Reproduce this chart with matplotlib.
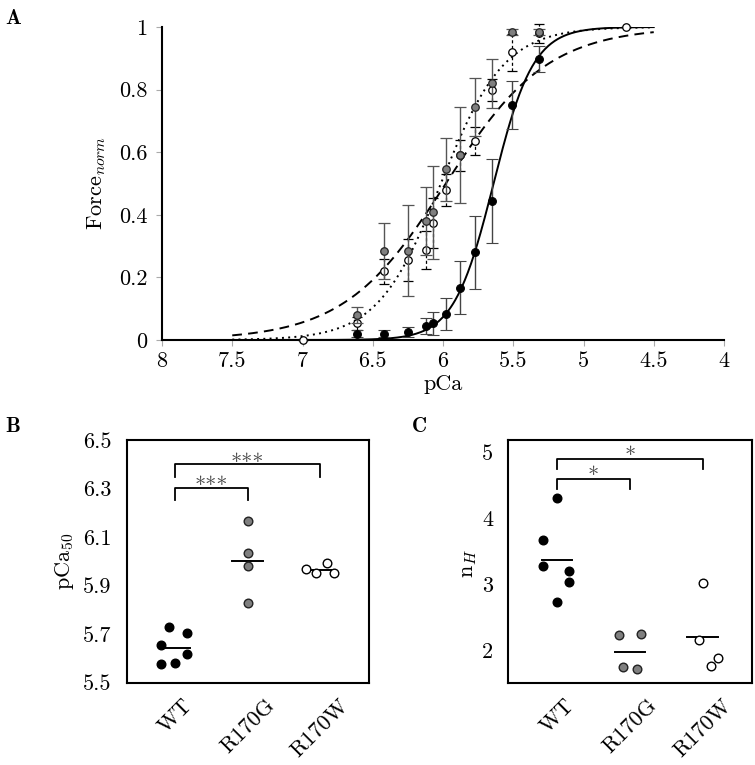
import numpy as np
import matplotlib
matplotlib.use("Agg")
import matplotlib.pyplot as plt

plt.rcParams['font.family'] = ['cmr10', 'DejaVu Serif']
plt.rcParams['mathtext.fontset'] = 'cm'
plt.rcParams['axes.formatter.use_mathtext'] = True

# ---------------- Panel A data ----------------
pca_wt = [6.61, 6.42, 6.25, 6.12, 6.07, 5.98, 5.88, 5.77, 5.65, 5.51, 5.32]
force_wt = [0.02, 0.02, 0.025, 0.045, 0.053, 0.083, 0.167, 0.28, 0.445, 0.751, 0.897]
err_wt = [0.012, 0.012, 0.015, 0.025, 0.037, 0.05, 0.084, 0.117, 0.134, 0.078, 0.041]

pca_g = [6.61, 6.42, 6.25, 6.12, 6.07, 5.98, 5.88, 5.77, 5.65, 5.51, 5.32]
force_g = [0.08, 0.285, 0.285, 0.381, 0.408, 0.545, 0.591, 0.745, 0.82, 0.983, 0.983]
err_g = [0.025, 0.09, 0.146, 0.108, 0.148, 0.1, 0.154, 0.093, 0.078, 0.01, 0.01]

pca_w = [7.0, 6.61, 6.42, 6.25, 6.12, 6.07, 5.98, 5.88, 5.77, 5.65, 5.51, 5.32, 4.70]
force_w = [0.0, 0.053, 0.22, 0.256, 0.288, 0.373, 0.479, 0.59, 0.635, 0.799, 0.919, 0.98, 1.0]
err_w = [0.0, 0.02, 0.04, 0.066, 0.06, 0.08, 0.05, 0.05, 0.044, 0.035, 0.06, 0.03, 0.0]

# Hill fit parameters (WT, R170G, R170W)
fit_pca50 = [5.64, 6.015, 5.98]
fit_nh = [3.06, 1.93, 1.2]
fit_range = [7.5, 4.5]

xticks_a = [8, 7.5, 7, 6.5, 6, 5.5, 5, 4.5, 4]
xticklabels_a = ['8', '7.5', '7', '6.5', '6', '5.5', '5', '4.5', '4']
yticks_a = [0, 0.2, 0.4, 0.6, 0.8, 1]
yticklabels_a = ['0', '0.2', '0.4', '0.6', '0.8', '1']

# ---------------- Panel B / C data ----------------
groups = ['WT', 'R170G', 'R170W']
pca50_wt = [5.728, 5.703, 5.655, 5.618, 5.576, 5.582]
pca50_g = [6.166, 6.036, 5.981, 5.827]
pca50_w = [5.967, 5.953, 5.992, 5.953]
jit_b_wt = [-0.09, 0.16, -0.19, 0.16, -0.19, 0.0]
jit_b_g = [0.0, 0.0, 0.0, 0.0]
jit_b_w = [-0.2, -0.055, 0.096, 0.188]

nh_wt = [4.315, 3.675, 3.269, 3.193, 3.036, 2.731]
nh_g = [2.218, 2.234, 1.736, 1.706]
nh_w = [3.015, 2.142, 1.756, 1.868]
jit_c_wt = [0.0, -0.2, -0.2, 0.157, 0.157, 0.0]
jit_c_g = [-0.152, 0.152, -0.1, 0.1]
jit_c_w = [0.0, -0.05, 0.11, 0.21]

yticks_b = [5.5, 5.7, 5.9, 6.1, 6.3, 6.5]
yticks_c = [2, 3, 4, 5]

FS = 16
GRAY = '#7f7f7f'

fig = plt.figure(figsize=(7.55, 7.65), dpi=100)
W, H = 755.0, 765.0

def box(l, t, r, b):
    return [l / W, 1 - b / H, (r - l) / W, (b - t) / H]

# ================= Panel A =================
axA = fig.add_axes(box(162, 27, 724, 340))
grid = np.linspace(fit_range[0], fit_range[1], 400)
styles = ['-', (0, (1, 2.2)), (0, (5, 3.2))]
for p50, nh, ls in zip(fit_pca50, fit_nh, styles):
    f = 1.0 / (1.0 + 10 ** (nh * (grid - p50)))
    axA.plot(grid, f, color='black', lw=1.4, linestyle=ls, zorder=2)

ebw = axA.errorbar(pca_w, force_w, yerr=err_w, fmt='o', ms=5.4, mfc='white', mec='black',
                   mew=0.9, ecolor='black', elinewidth=0.9, capsize=3.5, capthick=0.9,
                   zorder=3, clip_on=False)
for c in ebw[2]:
    c.set_linestyle((0, (2.5, 2)))
for c in ebw[1]:
    c.set_clip_on(False)
ebw[0].set_clip_on(False)

axA.errorbar(pca_g, force_g, yerr=err_g, fmt='o', ms=5.4, mfc=GRAY, mec='#222222',
             mew=0.9, ecolor='#555555', elinewidth=1.0, capsize=4, capthick=1.0,
             zorder=4, clip_on=False)
axA.errorbar(pca_wt, force_wt, yerr=err_wt, fmt='o', ms=5.6, mfc='black', mec='black',
             mew=0.8, ecolor='#444444', elinewidth=1.0, capsize=4, capthick=1.0,
             zorder=5, clip_on=False)

axA.set_xlim(8, 4)
axA.set_ylim(0, 1)
axA.spines['top'].set_visible(False)
axA.spines['right'].set_visible(False)
axA.spines['left'].set_linewidth(1.5)
axA.spines['bottom'].set_linewidth(1.5)
axA.set_xticks(xticks_a)
axA.set_xticklabels(xticklabels_a)
axA.set_yticks(yticks_a)
axA.set_yticklabels(yticklabels_a)
axA.tick_params(axis='both', direction='out', length=4.5, width=0.8, color='#aaaaaa',
                labelsize=FS)
axA.tick_params(axis='y', pad=6)
axA.tick_params(axis='x', pad=3.5)
fig.text(97 / W, 1 - 183 / H, r'Force$_{norm}$', rotation=90, ha='center', va='center',
         fontsize=FS)
fig.text(443 / W, 1 - 384 / H, 'pCa', ha='center', va='center', fontsize=FS)

# ================= Panels B and C =================
def dotpanel(ax, vals, jits, ylim, yticks, ylabels):
    styles = [dict(mfc='black', mec='black'), dict(mfc=GRAY, mec='#222222'),
              dict(mfc='white', mec='black')]
    for i, (v, j, st) in enumerate(zip(vals, jits, styles)):
        xs = [i + d for d in j]
        ax.plot(xs, v, 'o', ms=6.2, mew=1.0, linestyle='none', zorder=3, **st)
        m = float(np.mean(v))
        ax.plot([i - 0.21, i + 0.21], [m, m], color='black', lw=1.4, zorder=2)
    ax.set_xlim(-0.67, 2.68)
    ax.set_ylim(*ylim)
    ax.set_xticks(range(len(groups)))
    ax.set_xticklabels(groups, rotation=45, ha='center', va='top')
    ax.set_yticks(yticks)
    ax.set_yticklabels(ylabels)
    ax.tick_params(axis='both', length=0, labelsize=FS)
    ax.tick_params(axis='y', pad=11)
    ax.tick_params(axis='x', pad=9)
    for s in ax.spines.values():
        s.set_linewidth(1.5)

def bracket(ax, x0, x1, ytop, ybot, label, ystar):
    ax.plot([x0, x0, x1, x1], [ybot, ytop, ytop, ybot], color='black', lw=1.3, zorder=2)
    ax.text((x0 + x1) / 2, ystar, label, ha='center', va='center', fontsize=FS,
            color='#444444')

axB = fig.add_axes(box(126.7, 440, 369.3, 682.7))
dotpanel(axB, [pca50_wt, pca50_g, pca50_w], [jit_b_wt, jit_b_g, jit_b_w], (5.5, 6.5),
         yticks_b, ['5.5', '5.7', '5.9', '6.1', '6.3', '6.5'])
bracket(axB, 0, 1, 6.304, 6.253, '***', 6.31)
bracket(axB, 0, 2, 6.401, 6.349, '***', 6.406)
fig.text(64 / W, 1 - 561 / H, r'pCa$_{50}$', rotation=90, ha='center', va='center',
         fontsize=FS)

axC = fig.add_axes(box(508.3, 440, 752.3, 682.7))
dotpanel(axC, [nh_wt, nh_g, nh_w], [jit_c_wt, jit_c_g, jit_c_w], (1.5, 5.19),
         yticks_c, ['2', '3', '4', '5'])
bracket(axC, 0, 1, 4.604, 4.452, '*', 4.64)
bracket(axC, 0, 2, 4.904, 4.751, '*', 4.94)
fig.text(469 / W, 1 - 563 / H, r'n$_{H}$', rotation=90, ha='center', va='center',
         fontsize=FS)

# panel letters
for letter, x, y in [('A', 13, 18), ('B', 13, 427), ('C', 419, 427)]:
    fig.text(x / W, 1 - y / H, letter, ha='center', va='center', fontsize=15,
             family=['cmb10', 'DejaVu Serif'])

fig.savefig('out.png', dpi=100)
